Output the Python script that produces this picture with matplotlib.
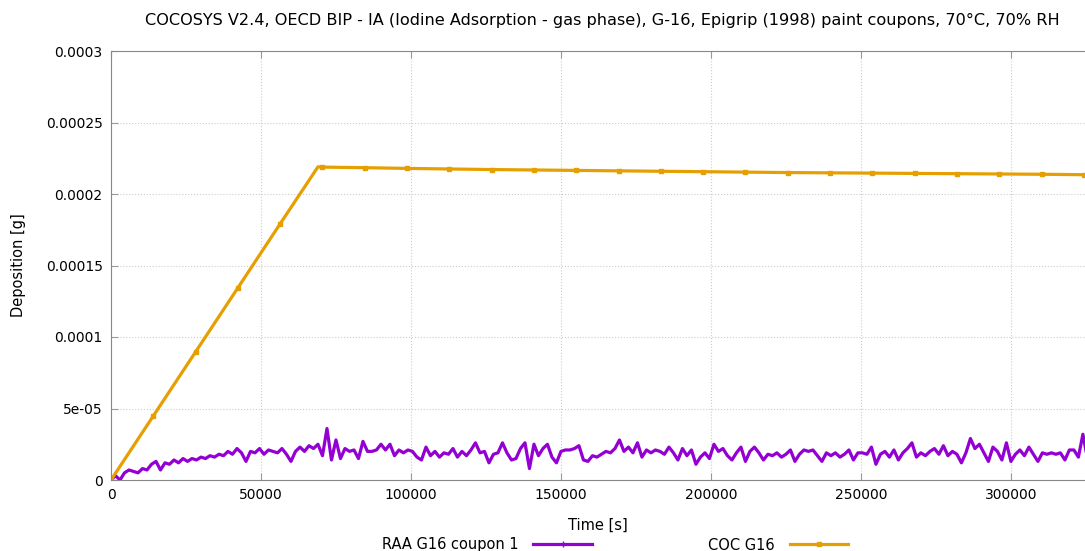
import matplotlib
matplotlib.use("Agg")
import matplotlib.pyplot as plt
import numpy as np

raa_step = 1500
raa_ug = [
    0, 3, 0, 5, 7, 6, 5, 8, 7, 11,
    13, 7, 12, 11, 14, 12, 15, 13, 15, 14,
    16, 15, 17, 16, 18, 17, 20, 18, 22, 19,
    13, 20, 19, 22, 18, 21, 20, 19, 22, 18,
    13, 20, 23, 20, 24, 22, 25, 17, 36, 14,
    28, 15, 22, 20, 21, 15, 27, 20, 20, 21,
    25, 21, 25, 17, 21, 19, 21, 20, 16, 14,
    23, 17, 20, 16, 19, 18, 22, 16, 20, 17,
    21, 26, 19, 20, 12, 18, 19, 26, 19, 14,
    15, 22, 26, 8, 25, 17, 22, 25, 16, 12,
    20, 21, 21, 22, 24, 14, 13, 17, 16, 18,
    20, 19, 22, 28, 20, 23, 19, 26, 16, 21,
    19, 21, 20, 18, 23, 19, 14, 22, 17, 21,
    11, 16, 19, 15, 25, 20, 22, 17, 14, 19,
    23, 13, 20, 23, 19, 14, 18, 17, 19, 16,
    18, 21, 13, 18, 21, 20, 21, 17, 13, 19,
    17, 19, 16, 18, 21, 14, 19, 19, 18, 23,
    11, 18, 20, 16, 21, 14, 19, 22, 26, 16,
    19, 17, 20, 22, 18, 24, 17, 20, 18, 12,
    19, 29, 22, 25, 19, 13, 23, 20, 14, 26,
    13, 18, 21, 17, 23, 18, 13, 19, 18, 19,
    18, 19, 14, 21, 21, 16, 32, 15,
]
raa_t = np.arange(len(raa_ug)) * raa_step
raa = np.array(raa_ug) * 1e-6

# COC G16 (calculated), in 1e-6 g
coc_t = [0, 14100, 28200, 42300, 56400, 69000, 70500, 84600, 98700, 112800,
         126900, 141000, 155100, 169200, 183300, 197400, 211500, 225600, 239700,
         253800, 267900, 282000, 296100, 310200, 324300]
coc_ug = [0, 44.8, 89.6, 134.4, 179.2, 219.0, 218.8, 218.4, 217.9, 217.5, 217.1,
          216.8, 216.5, 216.2, 215.9, 215.6, 215.3, 215.0, 214.8, 214.6, 214.4,
          214.2, 214.0, 213.8, 213.5]
coc_marks = [0, 1, 2, 3, 4] + list(range(6, 25))
coc = np.array(coc_ug) * 1e-6

yticks = [0, 0.00005, 0.0001, 0.00015, 0.0002, 0.00025, 0.0003]
ytick_labels = ["0", "5e-05", "0.0001", "0.00015", "0.0002", "0.00025", "0.0003"]
xticks = [0, 50000, 100000, 150000, 200000, 250000, 300000]

plt.rcParams['font.family'] = ['DejaVu Sans']
fig = plt.figure(figsize=(10.85, 5.51), dpi=100)
ax = fig.add_axes([111 / 1085, 1 - 480 / 551, (1085 - 111) / 1085, (480 - 51) / 551])

ax.plot(raa_t, raa, color='#9400D3', lw=2.3, marker='+', markevery=1000, ms=5,
        label="RAA G16 coupon 1")
ax.plot(coc_t, coc, color='#E69F00', lw=2.3, marker='s', ms=3.5,
        markevery=coc_marks, label="COC G16")

ax.set_xlim(0, 324700)
ax.set_ylim(0, 0.0003)
ax.set_xticks(xticks)
ax.set_xticklabels([str(v) for v in xticks])
ax.set_yticks(yticks)
ax.set_yticklabels(ytick_labels)
ax.tick_params(direction='in', top=True, right=False, length=5, color='#999999',
               labelsize=10, labelcolor='black', pad=6)
ax.grid(True, color='#cccccc', linestyle=':', lw=0.8)
for s in ['left', 'bottom', 'top']:
    ax.spines[s].set_color('#888888')
ax.spines['right'].set_visible(False)

ax.set_xlabel("Time [s]", fontsize=10.5, labelpad=11)
ax.set_ylabel("Deposition [g]", fontsize=10.5, labelpad=14)
fig.text(602 / 1085, 1 - 20 / 551,
         "COCOSYS V2.4, OECD BIP - IA (Iodine Adsorption - gas phase), G-16, "
         "Epigrip (1998) paint coupons, 70°C, 70% RH",
         ha='center', va='center', fontsize=11.6)

fig.legend(loc='center', bbox_to_anchor=(615 / 1085, 1 - 545 / 551), ncol=2,
           frameon=False, markerfirst=False, fontsize=10.5, columnspacing=8,
           handlelength=4, borderpad=0, handletextpad=1)

fig.savefig("out.png", dpi=100)
